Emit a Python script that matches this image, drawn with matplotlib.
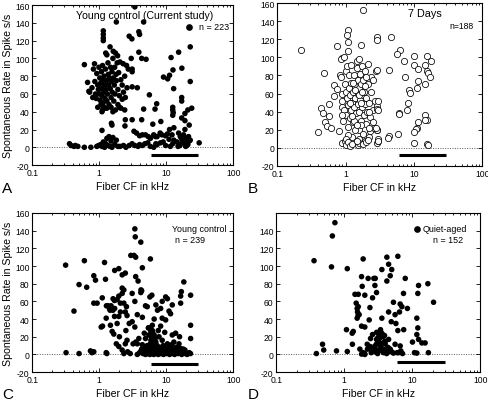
import numpy as np
import matplotlib
matplotlib.use('Agg')
import matplotlib.pyplot as plt
from matplotlib.ticker import FixedLocator, LogLocator, NullFormatter

plt.rcParams.update({
    'font.family': ['Liberation Sans', 'DejaVu Sans'],
    'axes.linewidth': 0.8,
})

# ── Panel A: young control (current study), n = 223 ─────────────────────────
a_cf = [0.36, 0.38, 0.42, 0.44, 0.48, 0.6, 0.75, 0.92, 0.98, 1.05, 1.1, 1.2, 1.25, 1.35, 1.45,
        1.55, 1.7, 1.9, 2.05, 2.3, 2.5, 2.8, 3.1, 3.4, 3.8, 4.0, 4.4, 4.8, 5.3, 5.8, 6.5, 7.3,
        8.2, 9.8, 11.5, 12.5, 14.5, 16, 17.5, 19.5, 21, 22, 31,
        1.1, 1.3, 1.4, 1.5, 1.6, 1.15, 1.8, 3.3, 3.6, 4.0, 4.4, 4.9, 5.4, 5.8, 6.5, 6.9, 7.3,
        8.1, 8.6, 9.7, 10.4, 11.2, 12.2, 13, 15.3, 16.2, 17.1, 18.1, 19.2, 21.5, 22.8, 20, 16,
        15, 11, 9, 7,
        1.52, 1.55, 2.45, 2.42, 1.1, 1.12, 1.15, 1.3, 1.5, 1.6, 1.9, 2.1, 2.4, 2.2,
        3.1, 4.3, 6.3, 8.3, 13, 19, 22, 17, 19, 4.6, 7.2, 6.8, 12.5, 12.5, 12.7, 12.5, 24, 21,
        19, 5.6, 17, 17, 3.1, 3.7, 12.9, 22.8, 12.6, 17.1, 11.2, 9.1, 10.5, 11.8, 15.3, 22.8,
        3.9, 4.3, 5.0, 3.0, 3.1, 3.1, 3.9, 4.0, 2.8, 4.6, 1.8, 3.4, 3.07,
        0.6, 0.67, 0.7, 0.72, 0.78, 0.8, 0.82, 0.85, 0.86, 0.88, 0.9, 0.92, 0.95, 0.97, 0.99,
        1.0, 1.02, 1.03, 1.05, 1.06, 1.08, 1.08, 1.1, 1.12, 1.12, 1.14, 1.16, 1.18, 1.2, 1.22,
        1.24, 1.25, 1.26, 1.28, 1.3, 1.3, 1.32, 1.35, 1.36, 1.38, 1.4, 1.42, 1.45, 1.46, 1.48,
        1.5, 1.52, 1.55, 1.56, 1.6, 1.62, 1.62, 1.65, 1.68, 1.7, 1.72, 1.75, 1.78, 1.8, 1.85,
        1.88, 1.9, 1.95, 2.0, 2.04, 2.1, 2.2, 2.28, 2.3, 2.4, 2.45, 2.56, 2.6, 2.71, 2.0, 1.75,
        1.2, 0.95, 1.15, 1.15, 1.15, 1.15]
a_sr = [4, 2, 1, 2, 1, 0, 0, 1, 2, 3, 1, 0, 4, 2, 1,
        0, 3, 1, 1, 2, 0, 2, 4, 2, 1, 3, 2, 4, 5, 1, 0, 3,
        5, 2, 1, 4, 6, 2, 5, 1, 3, 7, 5,
        19, 10, 12, 7, 11, 6, 8, 18, 16, 13, 14, 14, 12, 10, 14, 12, 12,
        16, 14, 13, 15, 20, 14, 8, 16, 12, 9, 14, 10, 12, 8, 5, 3,
        1, 9, 6, 4,
        27, 25, 31, 24, 40, 42, 46, 44, 45, 40, 48, 44, 42, 54,
        31, 31, 26, 29, 22, 20, 25, 33, 30, 43, 49, 43, 45, 42, 39, 36, 44, 42,
        38, 59, 56, 52, 68, 67, 66, 74, 87, 89, 81, 79, 77, 101, 107, 113,
        107, 100, 99, 100, 88, 85, 130, 127, 125, 141, 141, 158, 122,
        93, 73, 63, 62, 67, 56, 88, 94, 74, 60, 55, 83, 70, 65, 90,
        60, 78, 53, 72, 48, 85, 66, 58, 92, 75, 50, 62, 80, 70, 55,
        88, 106, 65, 75, 104, 52, 60, 95, 82, 70, 48, 78, 113, 66, 90,
        56, 74, 85, 62, 100, 108, 78, 52, 70, 90, 60, 106, 82, 75, 95,
        103, 65, 84, 58, 96, 76, 70, 94, 62, 80, 56, 92, 67, 88, 45, 42,
        44, 45, 131, 127, 123, 120]

# ── Panel B: 7 days, n = 188 ────────────────────────────────────────────────
b_cf = [0.22, 0.39, 0.48, 0.44, 0.47, 0.5, 0.53, 0.57, 0.61, 0.57, 0.69, 0.67, 0.75, 0.79, 0.75,
        0.88, 0.85, 1.07, 1.07, 1.05, 1.08, 1.67, 1.83, 2.87, 2.9,
        0.82, 0.85, 0.88, 0.88, 0.9, 0.92, 0.95, 0.98, 1.0, 1.0, 1.02, 1.05, 1.05, 1.08, 1.1,
        1.12, 1.12, 1.15, 1.18, 1.2, 1.2, 1.22, 1.25, 1.28, 1.3, 1.32, 1.35, 1.38, 1.4, 1.42,
        1.45, 1.48, 1.5, 1.5, 1.52, 1.55, 1.55, 1.58, 1.6, 1.62, 1.65, 1.68, 1.7, 1.72, 1.75,
        1.78, 1.8, 1.82, 1.85, 1.88, 1.9, 1.95, 2.0, 2.02, 2.05, 2.1, 2.15, 2.2, 2.25, 2.3,
        2.35, 2.4, 2.5, 2.55, 2.6, 2.7, 2.75, 2.85, 2.9, 3.0, 2.9, 0.95, 1.4, 1.25, 1.6, 1.9,
        2.2, 1.7, 1.35, 1.1,
        0.88, 0.98, 1.0, 1.02, 1.1, 1.15, 1.25, 1.5, 1.6, 1.8, 2.0, 2.1, 2.85, 3.0, 1.45, 2.5, 2.2,
        1.3, 1.4, 1.6, 1.7, 1.9, 2.0, 1.15, 0.9, 1.25, 1.45, 1.75, 2.2,
        7.2, 9.9, 9.9, 11.7, 15.6, 18.1, 14.7, 15.6, 16.1, 17.5, 14.7, 11.5, 11.1, 8.4, 8.9,
        8.3, 6.0, 6.0, 8.0, 14.4, 15.6, 14.4, 11.5, 11.1, 10.7, 9.9, 5.9, 4.4, 4.2, 3.0, 10.2,
        15.6, 16.1, 7.4, 4.3, 2.9, 3.0, 2.9, 2.84, 3.0, 4.7, 6.2, 5.7]
b_sr = [108, 17, 83, 44, 38, 28, 24, 35, 22, 48, 57, 69, 65, 18, 113,
        99, 98, 117, 130, 125, 107, 114, 152, 122, 119,
        80, 78, 60, 45, 52, 30, 42, 70, 85, 62, 36, 90, 55, 23, 47,
        80, 66, 33, 58, 92, 42, 72, 50, 28, 62, 80, 45, 68, 55, 38,
        88, 96, 60, 75, 48, 98, 20, 66, 40, 82, 53, 30, 70, 45, 90,
        58, 15, 75, 36, 62, 48, 85, 55, 26, 40, 70, 93, 50, 34, 18,
        62, 78, 42, 75, 22, 52, 85, 46, 43, 42, 20, 100, 20, 12, 10, 8,
        12, 25, 30, 14,
        5, 8, 3, 10, 6, 2, 4, 3, 5, 4, 6, 9, 5, 8, 8, 28, 22,
        72, 64, 58, 50, 68, 78, 50, 36, 35, 25, 62, 40,
        96, 102, 91, 87, 102, 96, 91, 85, 83, 78, 71, 74, 66, 64, 61,
        49, 39, 37, 42, 36, 31, 31, 28, 22, 21, 17, 15, 13, 11, 10, 5,
        4, 3, 78, 86, 86, 52, 20, 22, 7, 123, 108, 104]

# ── Panel C: young control, n = 239 ─────────────────────────────────────────
c_cf = [0.315, 0.32, 0.5, 0.42, 0.5, 0.6, 0.65, 0.74, 0.78, 0.83, 0.83, 0.88, 0.83, 0.93, 1.07,
        1.11, 1.2, 1.24, 1.27, 1.3, 1.28, 1.35, 1.42, 1.5, 1.6, 1.7, 1.45, 1.27, 1.12, 1.47,
        1.56, 1.65, 1.85, 1.69, 1.96, 2.07, 1.61, 1.69, 1.85, 1.96, 2.2, 2.33, 2.2, 2.07, 2.33,
        2.55, 2.45, 2.6, 1.7, 1.96, 2.2, 2.45, 1.96, 2.2, 2.33, 2.45, 2.6, 2.65, 2.9, 3.2, 3.5,
        3.4, 3.4, 3.4, 3.45, 3.3, 3.5, 2.0, 2.5, 1.8,
        4.17, 2.96, 5.8, 4.4, 3.5, 3.8, 4.2, 4.3, 3.1, 4.17, 5.7, 6.1, 9.8, 10.4, 16.4, 16.8,
        18.3, 23.1, 16.4, 8.7, 12.3, 7.0, 4.9, 5.2, 7.4, 8.25, 11, 11.6, 3.7, 4.4, 6.6, 8.7,
        9.8, 3.1, 2.8, 6.2, 8.25, 23.1, 5.5, 6.2, 5.9, 7.6, 4.7, 5.5, 6.6, 12.3, 13.8, 23.1,
        3.9, 4.9, 5.9, 7.0, 8.7, 10.4, 13, 15.5, 3.7, 4.4, 5.2, 5.8, 6.4, 6.0, 6.3, 6.8, 7.3,
        8.0, 9.0, 11.0, 12.0, 14.0, 17, 19,
        3.7, 4.0, 4.2, 4.5, 4.7, 4.9, 5.1, 5.3, 5.5, 5.7, 5.9, 6.1, 6.3, 6.5, 6.7, 7.0, 7.3,
        7.6, 7.9, 8.3, 8.7, 9.1, 9.6, 10.1, 10.6, 11.2, 11.8, 12.5, 13.3, 14.1, 15, 16, 17, 18,
        19.2, 20.5, 22, 23,
        4.3, 4.8, 5.2, 5.6, 6.0, 6.4, 6.9, 7.4, 8.0, 8.6, 9.3, 10, 10.9, 11.9, 13, 14.5, 16, 18,
        5.4, 6.6, 7.8, 9.5, 12.8, 15.8]
c_sr = [101, 2, 1, 49, 79, 106, 76, 4, 2, 3, 89, 84, 58, 58, 31,
        64, 104, 85, 2, 1, 55, 55, 52, 55, 50, 52, 50, 41, 32, 33,
        26, 23, 35, 43, 43, 48, 63, 61, 62, 66, 69, 73, 75, 58, 58,
        54, 48, 44, 95, 97, 90, 92, 9, 5, 1, 12, 16, 3, 1, 12, 14,
        31, 60, 142, 133, 112, 110, 20, 27, 12,
        127, 112, 108, 98, 88, 83, 73, 72, 69, 70, 65, 67, 65, 63, 66, 71,
        82, 67, 58, 60, 56, 56, 55, 54, 50, 52, 49, 46, 45, 42, 40, 41,
        39, 37, 35, 33, 32, 33, 30, 27, 26, 27, 24, 22, 22, 22, 24, 18,
        18, 18, 16, 14, 16, 12, 14, 12, 12, 11, 10, 12, 9, 20, 24, 18, 10,
        8, 10, 8, 11, 8, 6, 5,
        0, 2, 4, 1, 3, 0, 2, 1, 3, 0, 2, 4, 1, 0, 3, 1, 2,
        0, 3, 1, 2, 0, 3, 1, 2, 0, 1, 3, 0, 2, 1, 3, 0, 2,
        1, 0, 2, 1,
        6, 7, 5, 8, 6, 7, 5, 8, 6, 5, 7, 6, 5, 7, 6, 5, 7, 6,
        30, 15, 20, 25, 5, 20]

# ── Panel D: quiet-aged, n = 152 ────────────────────────────────────────────
d_cf = [0.73, 0.67, 0.36, 0.65, 1.11, 1.9, 1.8, 2.25, 2.73, 2.83, 2.99, 1.84, 2.01, 2.61, 1.44,
        1.61, 2.39, 1.61, 1.57, 1.66, 1.55, 2.33, 1.8, 2.01, 1.36, 1.08, 1.31, 1.32, 1.7, 1.9,
        2.18, 2.44, 2.61, 2.99, 2.83, 3.34, 3.27, 3.42, 0.77, 1.11, 0.39, 0.48, 0.5, 1.8, 2.01,
        1.5, 1.55, 1.6,
        2.0, 2.5, 2.9, 3.2, 3.5, 3.8, 4.2, 4.5, 3.0, 3.3, 3.7, 4.0, 2.6, 2.2, 2.4, 2.8, 3.1,
        3.6, 4.1, 3.4,
        4.24, 4.5, 6.15, 5.0, 3.58, 4.75, 4.24, 2.86, 7.9, 12.4, 12.1, 17, 20.6, 7.45, 5.3,
        6.66, 7.05, 4.5, 5.6, 3.58, 4.92, 5.76, 6.15, 3.58, 3.92, 4.5, 3.13, 3.5, 4.75, 5.6,
        6.66, 6.3, 5.3, 11.7, 12.1, 11.7, 12.4, 13.9, 15.5, 10.1, 10.8, 11.7, 17.3,
        8.5, 6.5, 7.5, 6.0, 6.8, 7.2, 5.0, 4.0, 2.7, 3.0, 3.9, 4.4]
d_sr = [149, 134, 106, 99, 97, 108, 88, 86, 86, 78, 70, 77, 67, 64, 68,
        68, 53, 54, 48, 45, 41, 39, 32, 31, 26, 28, 24, 11.5, 6, 2,
        11.5, 18, 22.5, 17, 9.6, 13, 22.5, 28, 4, 3.3, 1, 11.5, 5, 0.4, 0,
        58, 52, 44,
        1, 2, 3, 5, 8, 2, 1, 3, 12, 18, 20, 15, 4, 6, 9, 7, 1,
        4, 6, 10,
        110, 102, 111, 96, 96, 89, 83, 86, 86, 78, 69, 80, 59, 69, 59,
        57, 54, 48, 45, 41, 37, 35, 27, 24, 21.4, 17, 19, 11.5, 6, 11.5,
        9.6, 2, 1.5, 41, 30, 22.5, 17, 13, 13, 14, 2, 1.5, 2,
        52, 48, 28, 2, 4, 1, 3, 12, 7, 25, 14, 8]

bar_cf = [6, 30]   # frequency range marked by the horizontal bar
y_ticks = [-20, 0, 20, 40, 60, 80, 100, 120, 140, 160]


def setup(ax, show160, bar_y):
    ax.set_xscale('log')
    ax.set_xlim(0.1, 100)
    ax.set_ylim(-20, 160)
    ax.xaxis.set_major_locator(FixedLocator([0.1, 1, 10, 100]))
    ax.set_xticklabels(['0.1', '1', '10', '100'])
    ax.xaxis.set_minor_locator(LogLocator(base=10, subs=np.arange(2, 10)))
    ax.xaxis.set_minor_formatter(NullFormatter())
    ax.yaxis.set_major_locator(FixedLocator(y_ticks))
    ax.set_yticklabels([str(v) if (v != 160 or show160) else '' for v in y_ticks])
    ax.tick_params(which='both', direction='in', top=True, right=True,
                   labelsize=6.2, pad=2, width=0.6)
    ax.tick_params(which='major', length=3)
    ax.tick_params(which='minor', length=1.6)
    ax.axhline(0, color='0.35', ls=(0, (1, 1.5)), lw=0.7, zorder=1)
    ax.plot(bar_cf, [bar_y, bar_y], color='k', lw=2.2, solid_capstyle='butt')
    ax.set_xlabel('Fiber CF in kHz', fontsize=7.6, labelpad=3)


fig = plt.figure(figsize=(4.88, 4.06), dpi=100)
axA = fig.add_axes([0.066, 0.591, 0.412, 0.394])
axB = fig.add_axes([0.568, 0.589, 0.420, 0.401])
axC = fig.add_axes([0.066, 0.081, 0.412, 0.392])
axD = fig.add_axes([0.566, 0.081, 0.418, 0.392])

setup(axA, True, -8.5)
setup(axB, True, -8.5)
setup(axC, True, -10.5)
setup(axD, False, -9)

ms = 16
axA.scatter(a_cf, a_sr, s=ms, c='k', edgecolors='none', zorder=3)
axB.scatter(b_cf, b_sr, s=20, facecolors='white', edgecolors='k', linewidths=0.55, zorder=3)
axC.scatter(c_cf, c_sr, s=ms, c='k', edgecolors='none', zorder=3)
axD.scatter(d_cf, d_sr, s=ms, c='k', edgecolors='none', zorder=3)

for ax in (axA, axC):
    ax.set_ylabel('Spontaneous Rate in Spike s/s', fontsize=7.6, labelpad=1.5)

# in-panel annotations
axA.text(0.56, 0.935, 'Young control (Current study)', transform=axA.transAxes,
         ha='center', va='center', fontsize=7.6)
axA.plot([0.78], [0.865], 'o', color='k', ms=3.8, transform=axA.transAxes)
axA.text(0.83, 0.865, 'n = 223', transform=axA.transAxes, ha='left', va='center', fontsize=6.4)

axB.text(0.72, 0.94, '7 Days', transform=axB.transAxes, ha='center', va='center', fontsize=7.8)
axB.text(0.96, 0.865, 'n=188', transform=axB.transAxes, ha='right', va='center', fontsize=6.2)

axC.text(0.965, 0.9, 'Young control', transform=axC.transAxes, ha='right', va='center', fontsize=6.4)
axC.text(0.86, 0.835, 'n = 239', transform=axC.transAxes, ha='right', va='center', fontsize=6.4)

axD.plot([0.69], [0.9], 'o', color='k', ms=3.8, transform=axD.transAxes)
axD.text(0.72, 0.9, 'Quiet-aged', transform=axD.transAxes, ha='left', va='center', fontsize=6.4)
axD.text(0.915, 0.835, 'n = 152', transform=axD.transAxes, ha='right', va='center', fontsize=6.4)

for lab, x, y in [('A', 0.004, 0.535), ('B', 0.507, 0.535), ('C', 0.004, 0.028), ('D', 0.507, 0.028)]:
    fig.text(x, y, lab, fontsize=11, ha='left', va='center')

fig.savefig('out.png', dpi=100)
